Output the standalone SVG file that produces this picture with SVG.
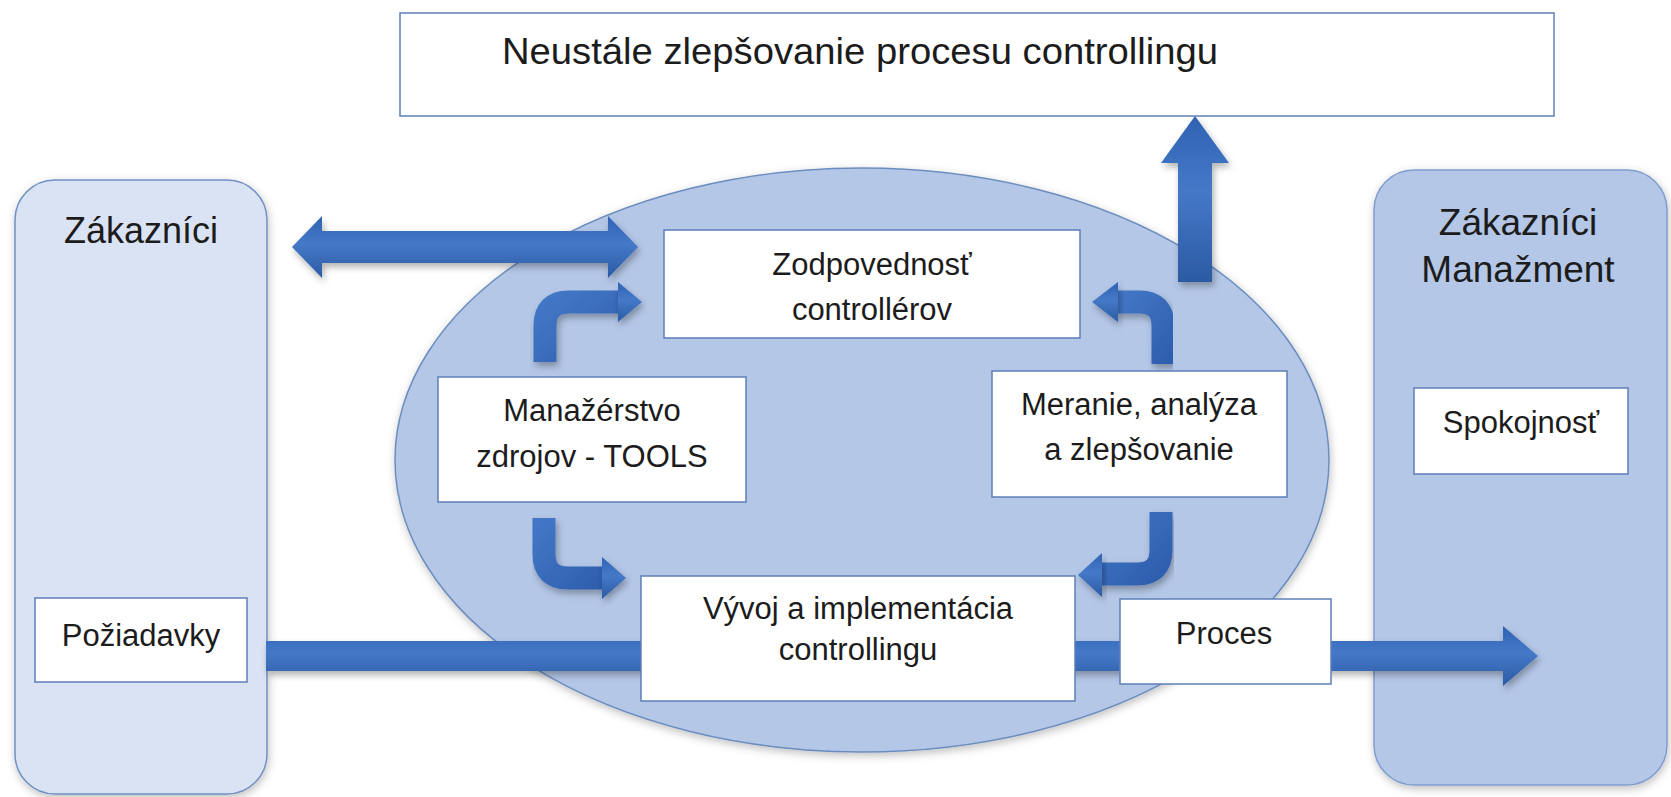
<svg xmlns="http://www.w3.org/2000/svg" width="1671" height="797" viewBox="0 0 1671 797">
<style>
  .lbl{font-family:"Liberation Sans",Arial,sans-serif;fill:#1c1c1c;text-anchor:middle}
  .big{font-size:36px}
  .box{fill:#ffffff;stroke:#5d7fb9;stroke-width:1.5}
  .arrow{fill:url(#gradH);filter:url(#sh)}
  .bend{fill:none;stroke:url(#gradB);stroke-width:23;filter:url(#sh)}
  .head{fill:url(#gradH);filter:url(#sh)}
</style>
<defs>
  <filter id="sh" x="-20%" y="-20%" width="140%" height="160%">
    <feDropShadow dx="2" dy="4" stdDeviation="3.5" flood-color="#000" flood-opacity="0.3"/>
  </filter>
  <filter id="shs" x="-10%" y="-10%" width="120%" height="125%">
    <feDropShadow dx="1" dy="3" stdDeviation="4" flood-color="#000" flood-opacity="0.25"/>
  </filter>
  <linearGradient id="gradH" x1="0" y1="0" x2="0" y2="1">
    <stop offset="0" stop-color="#2f62b3"/>
    <stop offset="0.45" stop-color="#4579c8"/>
    <stop offset="1" stop-color="#2b5aa3"/>
  </linearGradient>
  <linearGradient id="gradB" x1="0" y1="0" x2="1" y2="1">
    <stop offset="0" stop-color="#4277c6"/>
    <stop offset="1" stop-color="#2f5fae"/>
  </linearGradient>
</defs>
<rect width="1671" height="797" fill="#ffffff"/>

<g id="zakaznici-left">
  <rect x="15" y="180" width="252" height="614" rx="40" fill="#dae3f3" stroke="#7290c4" stroke-width="1.5" filter="url(#shs)"/>
  <text class="lbl big" x="141" y="243">Zákazníci</text>
</g>

<g id="zakaznici-manazment-right">
  <rect x="1374" y="170" width="293" height="615" rx="40" fill="#b4c7e7" stroke="#7f9dcf" stroke-width="1.5" filter="url(#shs)"/>
  <text class="lbl" style="font-size:37px" x="1518" y="235">Zákazníci</text>
  <text class="lbl" style="font-size:37px" x="1518" y="282">Manažment</text>
</g>

<g id="controlling-ellipse">
  <ellipse cx="862" cy="460" rx="467" ry="292" fill="#b4c7e7" stroke="#6c8ebf" stroke-width="1.5" filter="url(#shs)"/>
</g>

<g id="connectors">
  <polygon class="arrow" points="292,247 322,216 322,231 608,231 608,216 638,247 608,278 608,263 322,263 322,278"/>
  <polygon class="arrow" points="266,641 1503,641 1503,626 1538,656 1503,686 1503,671 266,671"/>
  <polygon class="arrow" points="1195,116 1229,163 1212,163 1212,282 1178,282 1178,163 1161,163"/>
  <g>
    <path class="bend" d="M545 362 V326 Q545 302 569 302 H620"/>
    <polygon class="head" points="618,282 642,302 618,322"/>
  </g>
  <g>
    <path class="bend" d="M1163 364 V326 Q1163 302 1139 302 H1116"/>
    <polygon class="head" points="1118,282 1092,302 1118,322"/>
  </g>
  <g>
    <path class="bend" d="M544 518 V554 Q544 578 568 578 H604"/>
    <polygon class="head" points="602,557 626,578 602,599"/>
  </g>
  <g>
    <path class="bend" d="M1161 512 V550 Q1161 574 1137 574 H1100"/>
    <polygon class="head" points="1102,553 1078,575 1102,597"/>
  </g>
</g>

<g id="neustale-zlepsovanie">
  <rect class="box" x="400" y="13" width="1154" height="103"/>
  <text class="lbl" style="font-size:37.5px;text-anchor:start" x="502" y="64" textLength="716" lengthAdjust="spacingAndGlyphs">Neustále zlepšovanie procesu controllingu</text>
</g>

<g id="poziadavky">
  <rect class="box" x="35" y="598" width="212" height="84"/>
  <text class="lbl" style="font-size:31px" x="141" y="646">Požiadavky</text>
</g>

<g id="spokojnost">
  <rect class="box" x="1414" y="388" width="214" height="86"/>
  <text class="lbl" style="font-size:31px" x="1521" y="433">Spokojnosť</text>
</g>

<g id="zodpovednost">
  <rect class="box" x="664" y="230" width="416" height="108"/>
  <text class="lbl" style="font-size:31px" x="872" y="275">Zodpovednosť</text>
  <text class="lbl" style="font-size:31px" x="872" y="320">controllérov</text>
</g>

<g id="manazerstvo">
  <rect class="box" x="438" y="377" width="308" height="125"/>
  <text class="lbl" style="font-size:31px" x="592" y="421">Manažérstvo</text>
  <text class="lbl" style="font-size:31px" x="592" y="467">zdrojov - TOOLS</text>
</g>

<g id="meranie">
  <rect class="box" x="992" y="371" width="295" height="126"/>
  <text class="lbl" style="font-size:31px" x="1139" y="415">Meranie, analýza</text>
  <text class="lbl" style="font-size:31px" x="1139" y="460">a zlepšovanie</text>
</g>

<g id="vyvoj">
  <rect class="box" x="641" y="576" width="434" height="125"/>
  <text class="lbl" style="font-size:31px" x="858" y="619">Vývoj a implementácia</text>
  <text class="lbl" style="font-size:31px" x="858" y="660">controllingu</text>
</g>

<g id="proces">
  <rect class="box" x="1120" y="599" width="211" height="85"/>
  <text class="lbl" style="font-size:31px" x="1224" y="644">Proces</text>
</g>
</svg>
